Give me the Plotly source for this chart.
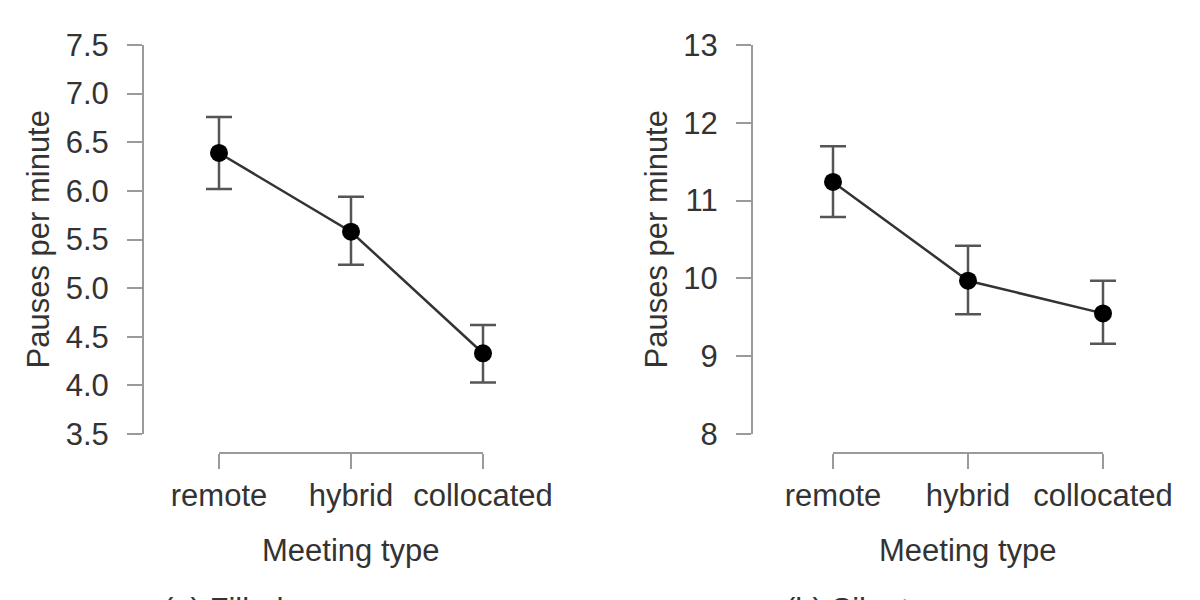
import plotly.graph_objects as go

# ---- data ----
meeting_types = ["remote", "hybrid", "collocated"]

filled_mean = [6.39, 5.58, 4.33]
filled_upper = [6.76, 5.94, 4.62]
filled_lower = [6.02, 5.24, 4.03]

silent_mean = [11.24, 9.97, 9.55]
silent_upper = [11.70, 10.42, 9.97]
silent_lower = [10.79, 9.54, 9.16]

left_yticks = [3.5, 4.0, 4.5, 5.0, 5.5, 6.0, 6.5, 7.0, 7.5]
right_yticks = [8, 9, 10, 11, 12, 13]

y_title = "Pauses per minute"
x_title = "Meeting type"
captions = ["(a) Filled pauses", "(b) Silent pauses"]

# ---- style ----
FONT = "Liberation Sans, Arial, sans-serif"
TXT = "#333333"
AXC = "#9a9a9a"
FS = 31
W, H = 1200, 600
OFF = 8      # page body margin offset in the browser
PAD = 0.25   # extra category room for the data axis so error-bar caps are not clipped


def px_x(p):
    return (p - OFF) / W


def px_y(p):
    return 1 - (p - OFF) / H


fig = go.Figure()


def add_panel(mean, upper, lower, xa_data, xa_disp, ya):
    fig.add_trace(go.Scatter(
        x=meeting_types, y=mean, xaxis=xa_data, yaxis=ya,
        mode="lines+markers",
        line=dict(color="#333333", width=2.5),
        marker=dict(color="black", size=18),
        error_y=dict(type="data", symmetric=False,
                     array=[u - m for u, m in zip(upper, mean)],
                     arrayminus=[m - l for m, l in zip(mean, lower)],
                     color="#555555", thickness=2.5, width=13),
        cliponaxis=False, showlegend=False, hoverinfo="skip",
    ))
    # invisible companion trace binding the display (tick) axis
    fig.add_trace(go.Scatter(
        x=meeting_types, y=mean, xaxis=xa_disp, yaxis=ya,
        mode="markers", marker=dict(opacity=0),
        showlegend=False, hoverinfo="skip",
    ))


add_panel(filled_mean, filled_upper, filled_lower, "x", "x3", "y")
add_panel(silent_mean, silent_upper, silent_lower, "x2", "x4", "y2")

ydom = [px_y(434), px_y(45)]
n = len(meeting_types)

data_x_common = dict(
    type="category", range=[-PAD, n - 1 + PAD],
    visible=False, showgrid=False, zeroline=False, automargin=False,
    anchor="free", position=px_y(453),
)
disp_x_common = dict(
    type="category", range=[0, n - 1],
    anchor="free", position=px_y(453), automargin=False,
    showline=True, linecolor=AXC, linewidth=2,
    ticks="outside", ticklen=15, tickwidth=2, tickcolor=AXC,
    showgrid=False, zeroline=False,
    tickfont=dict(family=FONT, size=FS, color=TXT),
    ticklabelstandoff=0,
)
yaxis_common = dict(
    anchor="free", domain=ydom, automargin=False,
    showline=True, linecolor=AXC, linewidth=2,
    ticks="outside", ticklen=15, tickwidth=2, tickcolor=AXC,
    showgrid=False, zeroline=False,
    tickfont=dict(family=FONT, size=FS, color=TXT),
    ticklabelstandoff=12,
)


def dom(a, b):
    step = (b - a) / (n - 1)
    return [px_x(a - PAD * step), px_x(b + PAD * step)]


fig.update_layout(
    width=W, height=H, autosize=False,
    margin=dict(l=0, r=0, t=0, b=0, pad=0, autoexpand=False),
    paper_bgcolor="white", plot_bgcolor="rgba(0,0,0,0)",
    xaxis=dict(domain=dom(219, 483), **data_x_common),
    xaxis2=dict(domain=dom(833, 1103), **data_x_common),
    xaxis3=dict(domain=[px_x(219), px_x(483)], **disp_x_common),
    xaxis4=dict(domain=[px_x(833), px_x(1103)], **disp_x_common),
    yaxis=dict(range=[left_yticks[0], left_yticks[-1]], tickvals=left_yticks,
               tickformat=".1f", position=px_x(143), **yaxis_common),
    yaxis2=dict(range=[right_yticks[0], right_yticks[-1]], tickvals=right_yticks,
                position=px_x(752), **yaxis_common),
)

ann_font = dict(family=FONT, size=FS, color=TXT)
mid_y = (ydom[0] + ydom[1]) / 2
for xpx in (38, 656):
    fig.add_annotation(text=y_title, xref="paper", yref="paper",
                       x=px_x(xpx), y=mid_y, textangle=-90, showarrow=False,
                       xanchor="center", yanchor="middle", font=ann_font)
for xpx in (351, 968):
    fig.add_annotation(text=x_title, xref="paper", yref="paper",
                       x=px_x(xpx), y=px_y(550), showarrow=False,
                       xanchor="center", yanchor="middle", font=ann_font)
for xpx, cap in zip((161, 783), captions):
    fig.add_annotation(text=cap, xref="paper", yref="paper",
                       x=px_x(xpx), y=px_y(590), showarrow=False,
                       xanchor="left", yanchor="top", font=ann_font)

fig.write_html("out.html", config={"responsive": False})
